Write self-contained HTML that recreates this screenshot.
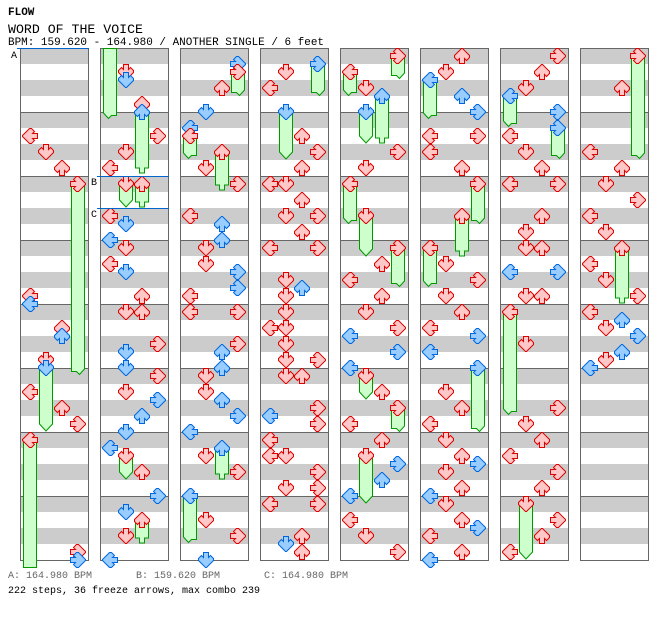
<!DOCTYPE html>
<html><head><meta charset="utf-8"><style>
html,body{margin:0;padding:0;background:#fff;}
svg{display:block;}
text{font-family:"Liberation Mono",monospace;}
</style></head><body>
<svg width="672" height="620" viewBox="0 0 672 620" xmlns="http://www.w3.org/2000/svg">
<defs>
<pattern id="st" patternUnits="userSpaceOnUse" x="0" y="48" width="8" height="64">
<rect x="0" y="0" width="8" height="64" fill="#fff"/>
<rect x="0" y="0" width="8" height="16" fill="#cccccc"/>
<rect x="0" y="32" width="8" height="16" fill="#cccccc"/>
<rect x="0" y="0" width="8" height="1" fill="#666"/>
</pattern>
<path id="ap" d="M5.5,0.5H10.5V5.5L12.5,3.5L15.5,6.5V8.5L8.5,15.5H7.5L0.5,8.5V6.5L3.5,3.5L5.5,5.5Z"/>
<g id="rD"><use href="#ap" fill="#ffc8c8" stroke="#e00000" stroke-width="1"/></g>
<g id="rU"><use href="#ap" fill="#ffc8c8" stroke="#e00000" stroke-width="1" transform="rotate(180 8 8)"/></g>
<g id="rL"><use href="#ap" fill="#ffc8c8" stroke="#e00000" stroke-width="1" transform="rotate(90 8 8)"/></g>
<g id="rR"><use href="#ap" fill="#ffc8c8" stroke="#e00000" stroke-width="1" transform="rotate(-90 8 8)"/></g>
<g id="bD"><use href="#ap" fill="#99ccff" stroke="#0066dd" stroke-width="1"/></g>
<g id="bU"><use href="#ap" fill="#99ccff" stroke="#0066dd" stroke-width="1" transform="rotate(180 8 8)"/></g>
<g id="bL"><use href="#ap" fill="#99ccff" stroke="#0066dd" stroke-width="1" transform="rotate(90 8 8)"/></g>
<g id="bR"><use href="#ap" fill="#99ccff" stroke="#0066dd" stroke-width="1" transform="rotate(-90 8 8)"/></g>
<g id="col">
<rect x="0.5" y="48.5" width="68" height="512" fill="url(#st)" stroke="#666" stroke-width="1"/>
</g>
</defs>

<text x="8" y="15" font-size="11" font-weight="bold" fill="#000">FLOW</text>
<text x="8" y="33" font-size="13" fill="#000" textLength="135" lengthAdjust="spacingAndGlyphs">WORD OF THE VOICE</text>
<text x="8" y="45" font-size="11" fill="#000" textLength="316" lengthAdjust="spacingAndGlyphs">BPM: 159.620 - 164.980 / ANOTHER SINGLE / 6 feet</text>

<!-- column 1 -->
<g transform="translate(20,0)">
<use href="#col"/>
<g fill="#ccffcc" stroke="#009900" stroke-width="1">
<path d="M51.5,184V371.5H56.5L59.5,374.5L64.5,369V184Z"/>
<path d="M19.5,368V424L26,431L32.5,424V368Z"/>
<path d="M3.5,440V567.5H16.5V440Z"/>
</g>
<use href="#rL" x="2" y="128"/><use href="#rD" x="18" y="144"/><use href="#rU" x="34" y="160"/><use href="#rR" x="50" y="176"/>
<use href="#rL" x="2" y="288"/><use href="#bL" x="2" y="296"/><use href="#rU" x="34" y="320"/><use href="#bU" x="34" y="328"/>
<use href="#rD" x="18" y="352"/><use href="#bD" x="18" y="360"/><use href="#rL" x="2" y="384"/><use href="#rU" x="34" y="400"/>
<use href="#rR" x="50" y="416"/><use href="#rL" x="2" y="432"/><use href="#rR" x="50" y="544"/><use href="#bR" x="50" y="552"/>
</g>

<!-- column 2 -->
<g transform="translate(100,0)">
<use href="#col"/>
<g fill="#ccffcc" stroke="#009900" stroke-width="1">
<path d="M3.5,48.5V113L8.5,118.5L11.5,115.5H16.5V48.5Z"/>
<path d="M35.5,112V168H39.5V173H44.5V168H48.5V112Z"/>
<path d="M19.5,184V200L26,207L32.5,200V184Z"/>
<path d="M35.5,184V202H39.5V207H44.5V202H48.5V184Z"/>
<path d="M19.5,456V472L26,479L32.5,472V456Z"/>
<path d="M35.5,520V538H39.5V543H44.5V538H48.5V520Z"/>
</g>
<use href="#rD" x="18" y="64"/><use href="#bD" x="18" y="72"/><use href="#rU" x="34" y="96"/><use href="#bU" x="34" y="104"/>
<use href="#rR" x="50" y="128"/><use href="#rD" x="18" y="144"/><use href="#rL" x="2" y="160"/><use href="#rD" x="18" y="176"/>
<use href="#rU" x="34" y="176"/><use href="#rL" x="2" y="208"/><use href="#bD" x="18" y="216"/><use href="#bL" x="2" y="232"/>
<use href="#rD" x="18" y="240"/><use href="#rL" x="2" y="256"/><use href="#bD" x="18" y="264"/><use href="#rU" x="34" y="288"/>
<use href="#rD" x="18" y="304"/><use href="#rU" x="34" y="304"/><use href="#rR" x="50" y="336"/><use href="#bD" x="18" y="344"/>
<use href="#bD" x="18" y="360"/><use href="#rR" x="50" y="368"/><use href="#rD" x="18" y="384"/><use href="#bR" x="50" y="392"/>
<use href="#bU" x="34" y="408"/><use href="#bD" x="18" y="424"/><use href="#bL" x="2" y="440"/><use href="#rD" x="18" y="448"/>
<use href="#rU" x="34" y="464"/><use href="#bR" x="50" y="488"/><use href="#bD" x="18" y="504"/><use href="#rU" x="34" y="512"/>
<use href="#rD" x="18" y="528"/><use href="#bL" x="2" y="552"/>
</g>

<!-- column 3 -->
<g transform="translate(180,0)">
<use href="#col"/>
<g fill="#ccffcc" stroke="#009900" stroke-width="1">
<path d="M51.5,72V92.5H56.5L59.5,95.5L64.5,90V72Z"/>
<path d="M3.5,136V153L8.5,158.5L11.5,155.5H16.5V136Z"/>
<path d="M35.5,152V185H39.5V190H44.5V185H48.5V152Z"/>
<path d="M35.5,448V474H39.5V479H44.5V474H48.5V448Z"/>
<path d="M3.5,496V537L8.5,542.5L11.5,539.5H16.5V496Z"/>
</g>
<use href="#bR" x="50" y="56"/><use href="#rR" x="50" y="64"/><use href="#rU" x="34" y="80"/><use href="#bD" x="18" y="104"/>
<use href="#bL" x="2" y="120"/><use href="#rL" x="2" y="128"/><use href="#rU" x="34" y="144"/><use href="#rD" x="18" y="160"/>
<use href="#rR" x="50" y="176"/><use href="#rL" x="2" y="208"/><use href="#bU" x="34" y="216"/><use href="#bU" x="34" y="232"/>
<use href="#rD" x="18" y="240"/><use href="#rD" x="18" y="256"/><use href="#bR" x="50" y="264"/><use href="#bR" x="50" y="280"/>
<use href="#rL" x="2" y="288"/><use href="#rL" x="2" y="304"/><use href="#rR" x="50" y="304"/><use href="#rR" x="50" y="336"/>
<use href="#bU" x="34" y="344"/><use href="#bU" x="34" y="360"/><use href="#rD" x="18" y="368"/><use href="#rD" x="18" y="384"/>
<use href="#bU" x="34" y="392"/><use href="#bR" x="50" y="408"/><use href="#bL" x="2" y="424"/><use href="#bU" x="34" y="440"/>
<use href="#rD" x="18" y="448"/><use href="#rR" x="50" y="464"/><use href="#bL" x="2" y="488"/><use href="#rD" x="18" y="512"/>
<use href="#rR" x="50" y="528"/><use href="#bD" x="18" y="552"/>
</g>

<!-- column 4 -->
<g transform="translate(260,0)">
<use href="#col"/>
<g fill="#ccffcc" stroke="#009900" stroke-width="1">
<path d="M51.5,64V92.5H56.5L59.5,95.5L64.5,90V64Z"/>
<path d="M19.5,112V152L26,159L32.5,152V112Z"/>
</g>
<use href="#bR" x="50" y="56"/><use href="#rD" x="18" y="64"/><use href="#rL" x="2" y="80"/><use href="#bD" x="18" y="104"/>
<use href="#rU" x="34" y="128"/><use href="#rR" x="50" y="144"/><use href="#rU" x="34" y="160"/><use href="#rL" x="2" y="176"/>
<use href="#rD" x="18" y="176"/><use href="#rU" x="34" y="192"/><use href="#rD" x="18" y="208"/><use href="#rR" x="50" y="208"/>
<use href="#rU" x="34" y="224"/><use href="#rL" x="2" y="240"/><use href="#rR" x="50" y="240"/><use href="#rD" x="18" y="272"/>
<use href="#bU" x="34" y="280"/><use href="#rD" x="18" y="288"/><use href="#rD" x="18" y="304"/><use href="#rL" x="2" y="320"/>
<use href="#rD" x="18" y="320"/><use href="#rD" x="18" y="336"/><use href="#rD" x="18" y="352"/><use href="#rR" x="50" y="352"/>
<use href="#rD" x="18" y="368"/><use href="#rU" x="34" y="368"/><use href="#rR" x="50" y="400"/><use href="#bL" x="2" y="408"/>
<use href="#rR" x="50" y="416"/><use href="#rL" x="2" y="432"/><use href="#rL" x="2" y="448"/><use href="#rD" x="18" y="448"/>
<use href="#rR" x="50" y="464"/><use href="#rD" x="18" y="480"/><use href="#rR" x="50" y="480"/><use href="#rL" x="2" y="496"/>
<use href="#rR" x="50" y="496"/><use href="#rU" x="34" y="528"/><use href="#bD" x="18" y="536"/><use href="#rU" x="34" y="544"/>
</g>

<!-- column 5 -->
<g transform="translate(340,0)">
<use href="#col"/>
<g fill="#ccffcc" stroke="#009900" stroke-width="1">
<path d="M51.5,56V75.5H56.5L59.5,78.5L64.5,73V56Z"/>
<path d="M3.5,72V90L8.5,95.5L11.5,92.5H16.5V72Z"/>
<path d="M35.5,96V138H39.5V143H44.5V138H48.5V96Z"/>
<path d="M19.5,112V136L26,143L32.5,136V112Z"/>
<path d="M3.5,184V218L8.5,223.5L11.5,220.5H16.5V184Z"/>
<path d="M19.5,216V249L26,256L32.5,249V216Z"/>
<path d="M51.5,248V283.5H56.5L59.5,286.5L64.5,281V248Z"/>
<path d="M19.5,376V392L26,399L32.5,392V376Z"/>
<path d="M51.5,408V428.5H56.5L59.5,431.5L64.5,426V408Z"/>
<path d="M19.5,456V496L26,503L32.5,496V456Z"/>
</g>
<use href="#rR" x="50" y="48"/><use href="#rL" x="2" y="64"/><use href="#rD" x="18" y="80"/><use href="#bU" x="34" y="88"/>
<use href="#bD" x="18" y="104"/><use href="#rR" x="50" y="144"/><use href="#rD" x="18" y="160"/><use href="#rL" x="2" y="176"/>
<use href="#rD" x="18" y="208"/><use href="#rR" x="50" y="240"/><use href="#rU" x="34" y="256"/><use href="#rL" x="2" y="272"/>
<use href="#rU" x="34" y="288"/><use href="#rD" x="18" y="304"/><use href="#rR" x="50" y="320"/><use href="#bL" x="2" y="328"/>
<use href="#bR" x="50" y="344"/><use href="#bL" x="2" y="360"/><use href="#rD" x="18" y="368"/><use href="#rU" x="34" y="384"/>
<use href="#rR" x="50" y="400"/><use href="#rL" x="2" y="416"/><use href="#rU" x="34" y="432"/><use href="#rD" x="18" y="448"/>
<use href="#bR" x="50" y="456"/><use href="#bU" x="34" y="472"/><use href="#bL" x="2" y="488"/><use href="#rL" x="2" y="512"/>
<use href="#rD" x="18" y="528"/><use href="#rR" x="50" y="544"/>
</g>

<!-- column 6 -->
<g transform="translate(420,0)">
<use href="#col"/>
<g fill="#ccffcc" stroke="#009900" stroke-width="1">
<path d="M3.5,80V113L8.5,118.5L11.5,115.5H16.5V80Z"/>
<path d="M51.5,184V220.5H56.5L59.5,223.5L64.5,218V184Z"/>
<path d="M35.5,216V251H39.5V256H44.5V251H48.5V216Z"/>
<path d="M3.5,248V281L8.5,286.5L11.5,283.5H16.5V248Z"/>
<path d="M51.5,368V428.5H56.5L59.5,431.5L64.5,426V368Z"/>
</g>
<use href="#rU" x="34" y="48"/><use href="#rD" x="18" y="64"/><use href="#bL" x="2" y="72"/><use href="#bU" x="34" y="88"/>
<use href="#bR" x="50" y="104"/><use href="#rL" x="2" y="128"/><use href="#rR" x="50" y="128"/><use href="#rL" x="2" y="144"/>
<use href="#rU" x="34" y="160"/><use href="#rR" x="50" y="176"/><use href="#rU" x="34" y="208"/><use href="#rL" x="2" y="240"/>
<use href="#rD" x="18" y="256"/><use href="#rR" x="50" y="272"/><use href="#rD" x="18" y="288"/><use href="#rU" x="34" y="304"/>
<use href="#rL" x="2" y="320"/><use href="#bR" x="50" y="328"/><use href="#bL" x="2" y="344"/><use href="#bR" x="50" y="360"/>
<use href="#rD" x="18" y="384"/><use href="#rU" x="34" y="400"/><use href="#rL" x="2" y="416"/><use href="#rD" x="18" y="432"/>
<use href="#rU" x="34" y="448"/><use href="#bR" x="50" y="456"/><use href="#rD" x="18" y="464"/><use href="#rU" x="34" y="480"/>
<use href="#bL" x="2" y="488"/><use href="#rD" x="18" y="496"/><use href="#rU" x="34" y="512"/><use href="#bR" x="50" y="520"/>
<use href="#rL" x="2" y="528"/><use href="#rU" x="34" y="544"/><use href="#bL" x="2" y="552"/>
</g>

<!-- column 7 -->
<g transform="translate(500,0)">
<use href="#col"/>
<g fill="#ccffcc" stroke="#009900" stroke-width="1">
<path d="M3.5,96V121L8.5,126.5L11.5,123.5H16.5V96Z"/>
<path d="M51.5,128V155.5H56.5L59.5,158.5L64.5,153V128Z"/>
<path d="M3.5,312V409L8.5,414.5L11.5,411.5H16.5V312Z"/>
<path d="M19.5,504V552L26,559L32.5,552V504Z"/>
</g>
<use href="#rR" x="50" y="48"/><use href="#rU" x="34" y="64"/><use href="#rD" x="18" y="80"/><use href="#bL" x="2" y="88"/>
<use href="#bR" x="50" y="104"/><use href="#bR" x="50" y="120"/><use href="#rL" x="2" y="128"/><use href="#rD" x="18" y="144"/>
<use href="#rU" x="34" y="160"/><use href="#rL" x="2" y="176"/><use href="#rR" x="50" y="176"/><use href="#rU" x="34" y="208"/>
<use href="#rD" x="18" y="224"/><use href="#rD" x="18" y="240"/><use href="#rU" x="34" y="240"/><use href="#bL" x="2" y="264"/>
<use href="#bR" x="50" y="264"/><use href="#rD" x="18" y="288"/><use href="#rU" x="34" y="288"/><use href="#rL" x="2" y="304"/>
<use href="#rD" x="18" y="336"/><use href="#rR" x="50" y="400"/><use href="#rD" x="18" y="416"/><use href="#rU" x="34" y="432"/>
<use href="#rL" x="2" y="448"/><use href="#rR" x="50" y="464"/><use href="#rU" x="34" y="480"/><use href="#rD" x="18" y="496"/>
<use href="#rR" x="50" y="512"/><use href="#rU" x="34" y="528"/><use href="#rL" x="2" y="544"/>
</g>

<!-- column 8 -->
<g transform="translate(580,0)">
<use href="#col"/>
<g fill="#ccffcc" stroke="#009900" stroke-width="1">
<path d="M51.5,56V155.5H56.5L59.5,158.5L64.5,153V56Z"/>
<path d="M35.5,248V298H39.5V303H44.5V298H48.5V248Z"/>
</g>
<use href="#rR" x="50" y="48"/><use href="#rU" x="34" y="80"/><use href="#rL" x="2" y="144"/><use href="#rU" x="34" y="160"/>
<use href="#rD" x="18" y="176"/><use href="#rR" x="50" y="192"/><use href="#rL" x="2" y="208"/><use href="#rD" x="18" y="224"/>
<use href="#rU" x="34" y="240"/><use href="#rL" x="2" y="256"/><use href="#rD" x="18" y="272"/><use href="#rR" x="50" y="288"/>
<use href="#rL" x="2" y="304"/><use href="#bU" x="34" y="312"/><use href="#rD" x="18" y="320"/><use href="#bR" x="50" y="328"/>
<use href="#bU" x="34" y="344"/><use href="#rD" x="18" y="352"/><use href="#bL" x="2" y="360"/>
</g>

<!-- BPM markers -->
<g stroke="#0066cc" stroke-width="1">
<line x1="17" y1="48.5" x2="89" y2="48.5"/>
<line x1="97" y1="176.5" x2="169" y2="176.5"/>
<line x1="97" y1="208.5" x2="169" y2="208.5"/>
</g>
<text x="11" y="58" font-size="10" fill="#000">A</text>
<text x="91" y="185" font-size="10" fill="#000">B</text>
<text x="91" y="217" font-size="10" fill="#000">C</text>

<text x="8" y="578" font-size="10" fill="#666">A: 164.980 BPM</text>
<text x="136" y="578" font-size="10" fill="#666">B: 159.620 BPM</text>
<text x="264" y="578" font-size="10" fill="#666">C: 164.980 BPM</text>
<text x="8" y="593" font-size="10" fill="#000">222 steps, 36 freeze arrows, max combo 239</text>
</svg>
</body></html>
